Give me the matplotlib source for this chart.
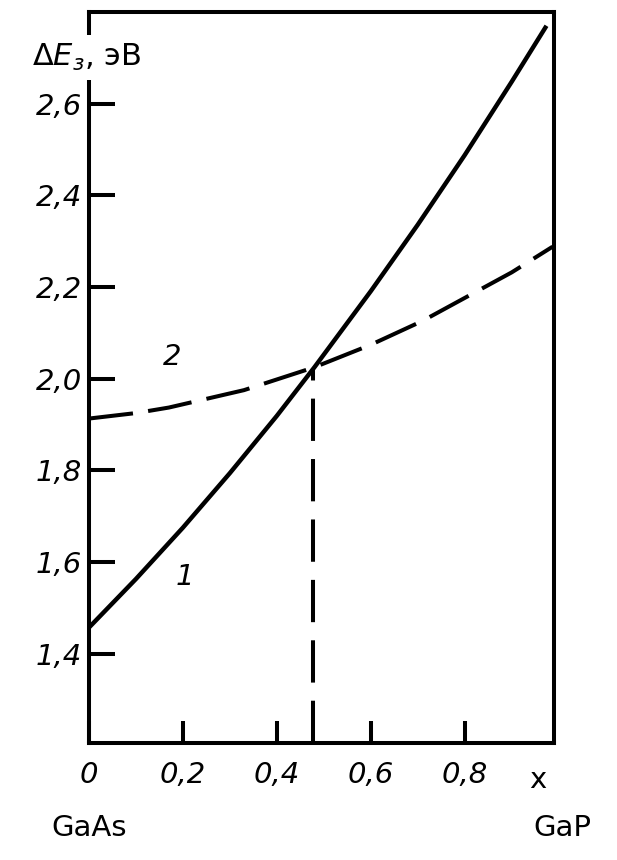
import matplotlib
matplotlib.use("Agg")
import matplotlib.pyplot as plt

# Curve 1: band gap (solid), curve 2: (dashed)
x1 = [0.0, 0.1, 0.2, 0.3, 0.4, 0.48, 0.6, 0.7, 0.8, 0.9, 0.974]
e1 = [1.457, 1.563, 1.675, 1.794, 1.919, 2.025, 2.191, 2.336, 2.488, 2.648, 2.77]

x2 = [0.0, 0.1, 0.17, 0.33, 0.48, 0.6, 0.71, 0.9, 0.987]
e2 = [1.913, 1.925, 1.937, 1.975, 2.025, 2.074, 2.126, 2.232, 2.288]

x_cross = 0.477
e_cross = 2.02

xticks = [0.0, 0.2, 0.4, 0.6, 0.8]
xticklabels = ["0", "0,2", "0,4", "0,6", "0,8"]
yticks = [1.4, 1.6, 1.8, 2.0, 2.2, 2.4, 2.6]
yticklabels = ["1,4", "1,6", "1,8", "2,0", "2,2", "2,4", "2,6"]

lw = 2.9
fig = plt.figure(figsize=(6.17, 8.60), dpi=100)
ax = fig.add_axes([0.1442, 0.136, 0.7537, 0.850])

ax.plot(x1, e1, color="black", lw=3.2, solid_capstyle="butt")
ax.plot(x2, e2, color="black", lw=lw, dashes=(11, 3.8), dash_capstyle="butt")
ax.plot([x_cross, x_cross], [1.205, e_cross], color="black", lw=lw,
        dashes=(10.5, 4.5), dash_capstyle="butt")

ax.set_xlim(0, 0.99)
ax.set_ylim(1.205, 2.8)

for s in ax.spines.values():
    s.set_linewidth(lw)
    s.set_color("black")

tick_font = dict(fontsize=21, fontstyle="italic")
ax.set_xticks(xticks)
ax.set_xticklabels(xticklabels, **tick_font)
ax.set_yticks(yticks)
ax.set_yticklabels(yticklabels, **tick_font)
ax.tick_params(axis="y", direction="in", length=19, width=lw, pad=5)
ax.tick_params(axis="x", direction="in", length=16, width=lw, pad=13)

# axis annotations
ax.text(0.955, 1.155, "x", fontsize=21, ha="center", va="top", clip_on=False)
ax.text(0.0, 1.02, "GaAs", fontsize=21, ha="center", va="center", clip_on=False)
ax.text(1.008, 1.02, "GaP", fontsize=21, ha="center", va="center", clip_on=False)

ax.text(-0.005, 2.70, r"$\Delta E_{з}$, эВ", fontsize=22, ha="center", va="center",
        zorder=10, clip_on=False,
        bbox=dict(facecolor="white", edgecolor="none", pad=5))

# curve labels
ax.text(0.178, 2.047, "2", fontsize=21, fontstyle="italic", ha="center", va="center")
ax.text(0.204, 1.567, "1", fontsize=21, fontstyle="italic", ha="center", va="center")

fig.savefig("out.png", dpi=100)
